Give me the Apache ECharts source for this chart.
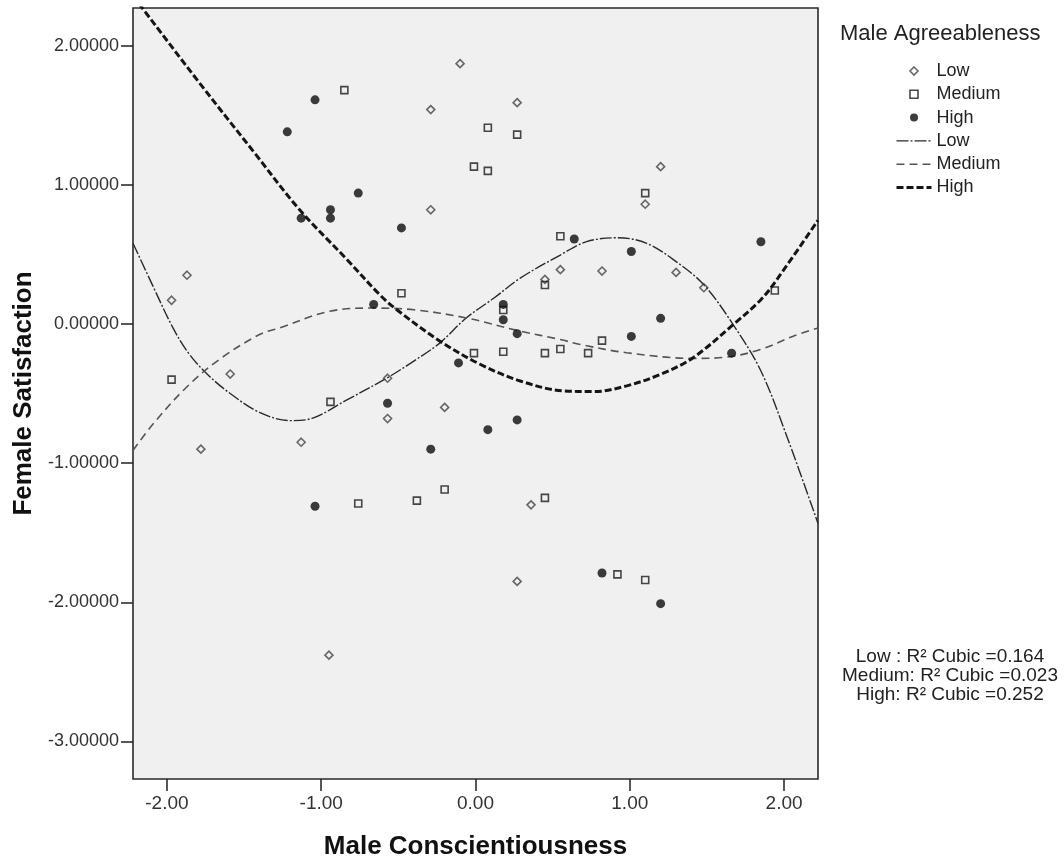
<!DOCTYPE html>
<html><head><meta charset="utf-8">
<script src="https://cdn.jsdelivr.net/npm/echarts@6/dist/echarts.min.js"></script>
<style>html,body{margin:0;padding:0;background:#fff}#chart{width:1064px;height:865px}</style>
</head><body><div id="chart"></div>
<script>
// ---- axis ticks ----
const xTicks = [-2, -1, 0, 1, 2];
const yTicks = [-3, -2, -1, 0, 1, 2];

// ---- scatter points (Male Conscientiousness, Female Satisfaction) ----
const lowX = [-0.10, -0.29, 0.27, -0.29, 0.55, 1.20, 1.10, 0.82, 1.30, 1.48, -1.87, -1.97, -1.59, -1.78, -1.13, -0.57, -0.57, -0.20, 0.36, 0.27, -0.95, 0.45];
const lowY = [1.87, 1.54, 1.59, 0.82, 0.39, 1.13, 0.86, 0.38, 0.37, 0.26, 0.35, 0.17, -0.36, -0.90, -0.85, -0.39, -0.68, -0.60, -1.30, -1.85, -2.38, 0.32];

const medX = [-0.85, 0.08, 0.27, -0.01, 0.08, 0.55, 0.45, -0.48, 1.10, 1.94, 0.18, -0.01, 0.18, 0.45, 0.55, 0.82, 0.73, -1.97, -0.94, -0.20, -0.76, -0.38, 0.45, 0.92, 1.10];
const medY = [1.68, 1.41, 1.36, 1.13, 1.10, 0.63, 0.28, 0.22, 0.94, 0.24, 0.10, -0.21, -0.20, -0.21, -0.18, -0.12, -0.21, -0.40, -0.56, -1.19, -1.29, -1.27, -1.25, -1.80, -1.84];

const highX = [-1.22, -1.04, -0.76, -0.94, -0.94, -1.13, -0.48, 0.64, 1.01, 1.85, -0.66, 0.18, 0.18, 0.27, 1.20, 1.01, 1.66, -0.11, -0.57, 0.27, 0.08, -0.29, -1.04, 0.82, 1.20];
const highY = [1.38, 1.61, 0.94, 0.82, 0.76, 0.76, 0.69, 0.61, 0.52, 0.59, 0.14, 0.14, 0.03, -0.07, 0.04, -0.09, -0.21, -0.28, -0.57, -0.69, -0.76, -0.90, -1.31, -1.79, -2.01];

// ---- cubic fit lines ----
const lowFitX = [-2.22, -2.09, -1.96, -1.86, -1.74, -1.59, -1.40, -1.20, -1.05, -0.84, -0.57, -0.40, -0.23, -0.06, 0.12, 0.29, 0.55, 0.72, 0.92, 1.11, 1.30, 1.48, 1.67, 1.85, 2.02, 2.22];
const lowFitY = [0.58, 0.27, -0.03, -0.21, -0.36, -0.50, -0.636, -0.695, -0.675, -0.55, -0.386, -0.267, -0.136, 0.043, 0.186, 0.329, 0.495, 0.591, 0.619, 0.579, 0.448, 0.281, -0.005, -0.338, -0.814, -1.434];

const medFitX = [-2.22, -2.09, -1.875, -1.66, -1.40, -1.27, -0.95, -0.66, -0.40, -0.06, 0.29, 0.55, 0.68, 0.98, 1.41, 1.63, 1.85, 2.06, 2.22];
const medFitY = [-0.909, -0.719, -0.457, -0.255, -0.076, -0.029, 0.09, 0.114, 0.102, 0.043, -0.052, -0.112, -0.148, -0.207, -0.248, -0.238, -0.183, -0.088, -0.029];

const highFitX = [-2.22, -2.16, -1.79, -1.44, -1.14, -0.84, -0.62, -0.51, -0.23, 0.03, 0.29, 0.57, 0.77, 0.98, 1.20, 1.41, 1.67, 1.85, 1.96, 2.22];
const highFitY = [2.36, 2.27, 1.733, 1.24, 0.82, 0.471, 0.209, 0.102, -0.124, -0.29, -0.41, -0.481, -0.486, -0.445, -0.362, -0.243, -0.005, 0.174, 0.329, 0.745];

// ---- texts ----
const legendTitle = 'Male Agreeableness';
const groupNames = ['Low', 'Medium', 'High'];
const fitSuffix = ' Fit';
const r2Prefix = ['Low :', 'Medium:', 'High:'];
const r2Values = ['0.164', '0.023', '0.252'];

const zip = (a, b) => a.map((v, i) => [v, b[i]]);
const FONT = '"Liberation Sans", Arial, sans-serif';

const chart = echarts.init(document.getElementById('chart'), null, {renderer: 'canvas'});
const ptStyles = [
  {symbol: 'diamond', size: 8, itemStyle: {color: 'rgba(0,0,0,0)', borderColor: '#444', borderWidth: 1.6}, icon: 'path://M4,0 L8,4 L4,8 L0,4 Z'},
  {symbol: 'rect', size: 7, itemStyle: {color: 'rgba(0,0,0,0)', borderColor: '#1a1a1a', borderWidth: 1.6}, icon: 'path://M0,0 L7,0 L7,7 L0,7 Z'},
  {symbol: 'circle', size: 9, itemStyle: {color: '#0d0d0d', borderWidth: 0}, icon: 'circle'}
];
const lineStyles = [
  {color: '#2a2a2a', width: 1.4, type: [12, 2, 2, 2]},
  {color: '#555', width: 1.6, type: [8, 5]},
  {color: '#151515', width: 3, type: [7, 3]}
];
const hiddenIcon = {color: 'rgba(0,0,0,0)', borderColor: 'rgba(0,0,0,0)', borderWidth: 0};
const ptData = [zip(lowX, lowY), zip(medX, medY), zip(highX, highY)];
const fitData = [zip(lowFitX, lowFitY), zip(medFitX, medFitY), zip(highFitX, highFitY)];

const series = [];
groupNames.forEach((g, i) => {
  series.push({
    name: g + fitSuffix, type: 'line', data: fitData[i], smooth: 0.35, symbol: 'none',
    lineStyle: lineStyles[i], itemStyle: hiddenIcon, clip: true, z: 2, silent: true
  });
});
groupNames.forEach((g, i) => {
  series.push({
    name: g, type: 'scatter', data: ptData[i], symbol: ptStyles[i].symbol,
    symbolSize: ptStyles[i].size, itemStyle: ptStyles[i].itemStyle, z: 3, silent: true
  });
});

const legendData = groupNames.map((g, i) => ({name: g, icon: ptStyles[i].icon, itemStyle: ptStyles[i].itemStyle}))
  .concat(groupNames.map((g, i) => ({name: g + fitSuffix, itemStyle: hiddenIcon, lineStyle: lineStyles[i]})));

chart.setOption({
  animation: false,
  textStyle: {fontFamily: FONT},
  title: {text: legendTitle, left: 840, top: 23, padding: 0,
    textStyle: {fontSize: 22, fontWeight: 'normal', color: '#222', fontFamily: FONT}},
  legend: {
    orient: 'vertical', left: 895, top: 62, padding: 0,
    itemWidth: 35, itemHeight: 8, itemGap: 5.3,
    data: legendData, selectedMode: false,
    formatter: n => n.replace(fitSuffix, ''),
    textStyle: {fontSize: 18, color: '#222', fontFamily: FONT}
  },
  grid: {left: 133, right: 246, top: 8, bottom: 81, show: true,
    backgroundColor: '#f0f0f0', borderColor: '#2a2a2a', borderWidth: 1.6},
  xAxis: {
    type: 'value', min: -2.22, max: 2.22,
    name: 'Male Conscientiousness', nameLocation: 'middle', nameGap: 55,
    nameTextStyle: {fontSize: 26, fontWeight: 'bold', color: '#111', fontFamily: FONT},
    axisLine: {show: false, onZero: false},
    axisTick: {show: true, customValues: xTicks, length: 12, lineStyle: {color: '#222', width: 1.5}},
    axisLabel: {customValues: xTicks, formatter: v => Number(v).toFixed(2), fontSize: 19, color: '#333', margin: 15},
    splitLine: {show: false}
  },
  yAxis: {
    type: 'value', min: -3.27, max: 2.27,
    name: 'Female Satisfaction', nameLocation: 'middle', nameGap: 96, nameRotate: 90,
    nameTextStyle: {fontSize: 26, fontWeight: 'bold', color: '#111', fontFamily: FONT},
    axisLine: {show: false, onZero: false},
    axisTick: {show: true, customValues: yTicks, length: 12, lineStyle: {color: '#222', width: 1.5}},
    axisLabel: {customValues: yTicks, formatter: v => Number(v).toFixed(5), fontSize: 18, color: '#333', margin: 14},
    splitLine: {show: false}
  },
  graphic: [{
    type: 'text', x: 950, y: 647, silent: true,
    style: {
      text: r2Prefix.map((p, i) => p + ' R\u00B2 Cubic =' + r2Values[i]).join('\n'),
      font: '19px ' + FONT, fill: '#222', textAlign: 'center', textVerticalAlign: 'top', lineHeight: 19
    }
  }],
  series: series
});
</script>
</body></html>
